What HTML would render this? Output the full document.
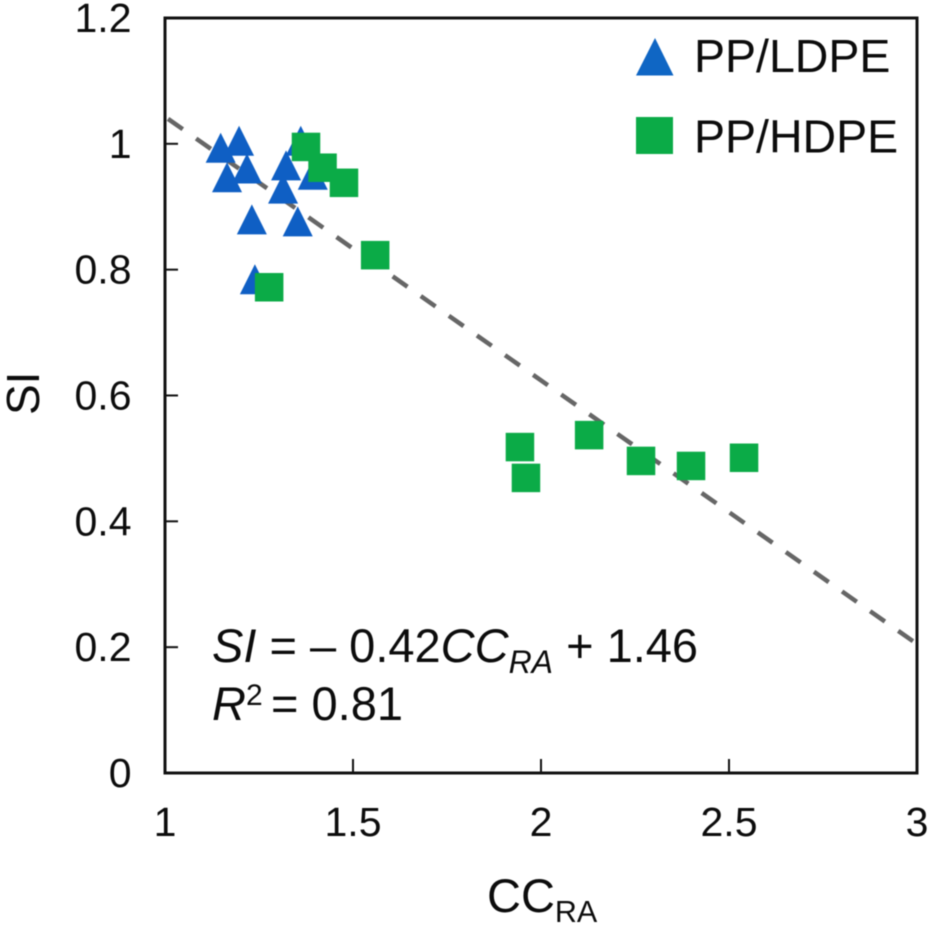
<!DOCTYPE html>
<html>
<head>
<meta charset="utf-8">
<title>SI vs CCRA</title>
<style>
html,body{margin:0;padding:0;background:#fff;width:930px;height:926px;overflow:hidden}
svg{display:block;filter:blur(0.4px)}
text{font-family:"Liberation Sans",sans-serif;fill:#0c0c0c}
</style>
</head>
<body>
<svg id="chart" xmlns="http://www.w3.org/2000/svg" width="930" height="926" viewBox="0 0 930 926">
  <rect x="165" y="18" width="752" height="755" fill="#fff" stroke="#111" stroke-width="3"/>
  <g id="ticks"></g>
  <g id="trend"></g>
  <g id="ldpe"></g>
  <g id="hdpe"></g>

  <g>
    <polygon points="655,38 673.5,75.5 636,75.5" fill="#0f66c4"/>
    <text x="694" y="72" font-size="46.5">PP/LDPE</text>
    <rect x="636" y="117" width="37" height="37" fill="#0bab47"/>
    <text x="694" y="152.5" font-size="46.5">PP/HDPE</text>
  </g>

  <text x="212" y="662" font-size="47"><tspan font-style="italic">SI</tspan> = – 0.42<tspan font-style="italic">CC</tspan><tspan font-style="italic" font-size="32" dy="11">RA</tspan><tspan dy="-11"> + 1.46</tspan></text>
  <text x="212" y="720" font-size="47"><tspan font-style="italic">R</tspan><tspan font-size="30" dy="-15">2</tspan><tspan dy="15" x="271">= 0.81</tspan></text>

  <text x="487" y="912" font-size="47">CC<tspan font-size="30.5" dy="10">RA</tspan></text>
  <text transform="translate(39,415) rotate(-90)" font-size="46">SI</text>
</svg>
<script>
const xTicks = [1, 1.5, 2, 2.5, 3];
const xTickLabels = ["1", "1.5", "2", "2.5", "3"];
const yTicks = [0, 0.2, 0.4, 0.6, 0.8, 1, 1.2];
const yTickLabels = ["0", "0.2", "0.4", "0.6", "0.8", "1", "1.2"];
const ldpeX = [1.148, 1.197, 1.218, 1.165, 1.322, 1.361, 1.393, 1.314, 1.231, 1.353, 1.239];
const ldpeY = [0.993, 1.004, 0.960, 0.946, 0.965, 1.004, 0.950, 0.928, 0.879, 0.876, 0.784];
const hdpeX = [1.375, 1.419, 1.476, 1.559, 1.277, 1.944, 1.960, 2.128, 2.266, 2.399, 2.540];
const hdpeY = [0.995, 0.962, 0.938, 0.823, 0.772, 0.518, 0.469, 0.537, 0.496, 0.488, 0.501];
const trendX = [1, 3];
const trendY = [1.043, 0.205];

const NS = 'http://www.w3.org/2000/svg';
function sx(v) { return 165 + (v - 1) * 376; }
function sy(v) { return 773 - v * 629.2; }
function make(tag, parent, attrs) {
  const el = document.createElementNS(NS, tag);
  for (const k in attrs) el.setAttribute(k, attrs[k]);
  parent.appendChild(el);
  return el;
}

const ticksG = document.getElementById('ticks');
xTicks.forEach(function (t, i) {
  if (i > 0 && i < xTicks.length - 1) {
    const tick = make('line', ticksG, { x1: sx(t), x2: sx(t), y1: sy(0), y2: sy(0) - 14, stroke: '#111', 'stroke-width': 2 });
    
    
  }
  const label = make('text', ticksG, { x: sx(t), y: 836, 'font-size': 41, 'text-anchor': 'middle' });
  label.textContent = xTickLabels[i];
  
  
});
yTicks.forEach(function (t, i) {
  if (i > 0 && i < yTicks.length - 1) {
    const tick = make('line', ticksG, { x1: sx(1), x2: sx(1) + 13, y1: sy(t), y2: sy(t), stroke: '#111', 'stroke-width': 2 });
    
    
  }
  const label = make('text', ticksG, { x: 131.5, y: sy(t) + 14, 'font-size': 41, 'text-anchor': 'end' });
  label.textContent = yTickLabels[i];
  
  
});

const trendLine = make('line', document.getElementById('trend'), {
  x1: sx(trendX[0]), y1: sy(trendY[0]), x2: sx(trendX[1]), y2: sy(trendY[1]),
  stroke: '#666', 'stroke-width': 4.5, 'stroke-dasharray': '18 16.3', 'stroke-dashoffset': 30.6
});



const ldpeG = document.getElementById('ldpe');
ldpeX.forEach(function (x, i) {
  const cx = sx(x), cy = sy(ldpeY[i]);
  const pts = cx + ',' + (cy - 15.5) + ' ' + (cx + 15) + ',' + (cy + 14.5) + ' ' + (cx - 15) + ',' + (cy + 14.5);
  const tri = make('polygon', ldpeG, { points: pts, fill: '#0f5fc4' });
  
  
});

const hdpeG = document.getElementById('hdpe');
hdpeX.forEach(function (x, i) {
  const cx = sx(x), cy = sy(hdpeY[i]);
  const sq = make('rect', hdpeG, { x: cx - 14.25, y: cy - 14.25, width: 28.5, height: 28.5, fill: '#0bab47' });
  
  
});
</script>
</body>
</html>
